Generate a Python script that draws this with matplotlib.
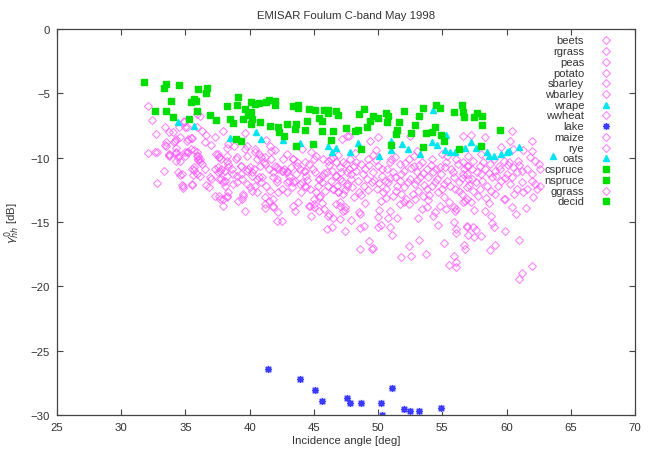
import numpy as np
import matplotlib
matplotlib.use("Agg")
import matplotlib.pyplot as plt

plt.rcParams['font.family'] = ['Liberation Sans', 'DejaVu Sans']

# -------------------------
# DATA
# -------------------------
# all the crop classes share the same magenta open diamond
crop_pts = [
    (32.1, -5.96), (32.4, -7.05), (32.7, -8.16), (33.4, -7.64), (33.7, -8.03), (34.0, -8.03),
    (33.5, -8.8), (33.5, -9.07), (32.1, -9.63), (32.6, -9.53), (32.8, -9.53), (33.7, -9.71),
    (32.8, -12.0), (33.3, -11.03), (34.3, -9.53), (34.5, -9.84), (34.2, -8.68), (34.6, -8.42),
    (34.5, -7.64), (34.9, -7.25), (35.0, -7.64), (35.1, -8.68), (35.4, -8.47), (35.0, -9.58),
    (35.0, -9.84), (35.2, -9.58), (35.9, -9.58), (36.0, -9.84), (34.4, -11.14), (34.7, -11.27),
    (34.8, -12.17), (34.8, -12.38), (35.6, -11.32), (35.5, -12.04), (35.7, -10.96), (36.0, -10.15),
    (35.9, -6.6), (36.1, -6.74), (33.4, -9.0), (34.1, -8.76), (34.3, -8.55), (34.3, -9.27),
    (33.7, -9.84), (34.3, -10.23), (34.6, -11.35), (34.7, -12.12), (34.9, -7.17), (35.1, -7.64),
    (35.2, -8.55), (35.5, -8.47), (35.1, -9.58), (35.4, -9.32), (35.7, -9.38), (35.9, -9.84),
    (35.5, -10.88), (35.7, -10.75), (36.1, -10.1), (36.3, -10.49), (35.5, -12.12), (35.9, -11.27),
    (36.1, -11.4), (36.5, -10.88), (36.6, -12.12), (36.8, -12.3), (35.9, -7.64), (36.3, -7.9),
    (36.5, -8.8), (37.3, -8.42), (37.4, -9.71), (37.6, -9.92), (37.5, -11.14), (37.7, -11.01),
    (37.8, -10.1), (38.2, -9.27), (38.3, -8.94), (38.2, -9.84), (38.3, -10.75), (38.6, -10.88),
    (37.8, -11.66), (38.1, -11.79), (37.6, -12.95), (37.9, -13.2), (38.2, -12.95), (38.7, -12.04),
    (39.0, -11.4), (39.3, -11.27), (38.9, -10.1), (39.0, -9.97), (39.3, -10.62), (39.6, -9.32),
    (39.8, -9.12), (39.8, -9.84), (39.9, -10.88), (40.2, -11.14), (39.8, -12.04), (40.0, -12.3),
    (39.5, -12.82), (40.4, -9.58), (40.6, -10.1), (40.8, -10.62), (41.1, -10.36), (40.7, -11.53),
    (41.0, -11.53), (40.6, -12.69), (41.2, -9.97), (41.6, -9.07), (41.7, -9.45), (42.0, -10.62),
    (42.2, -10.88), (41.8, -11.53), (42.1, -11.66), (41.2, -13.08), (41.5, -13.34), (41.8, -13.73),
    (42.1, -14.9), (42.5, -14.9), (42.6, -11.01), (42.9, -11.14), (43.1, -11.79), (43.4, -11.91),
    (42.5, -12.43), (42.9, -12.69), (43.4, -10.1), (43.7, -10.36), (43.9, -10.88), (44.3, -11.01),
    (43.9, -12.04), (44.4, -12.3), (43.8, -13.47), (44.6, -13.73), (45.0, -13.86), (45.2, -12.69),
    (45.5, -12.95), (45.4, -11.66), (45.6, -11.4), (45.0, -10.1), (45.2, -9.84), (46.1, -14.5),
    (46.5, -14.71), (46.0, -15.54), (46.4, -15.41), (47.0, -13.73), (47.4, -13.86), (46.5, -12.43),
    (46.9, -12.69), (46.7, -11.4), (47.0, -11.66), (46.3, -10.1), (46.7, -10.36), (47.7, -10.88),
    (47.6, -12.17), (47.7, -8.29), (37.9, -13.73), (39.1, -13.34), (39.4, -13.2), (39.5, -12.95),
    (39.6, -14.11), (41.2, -13.6), (41.2, -13.93), (41.8, -13.86), (42.2, -14.2), (43.4, -13.73),
    (43.5, -14.11), (48.6, -17.1), (49.5, -17.1), (49.6, -17.04), (48.6, -15.49), (48.9, -15.33),
    (50.0, -15.41), (50.2, -15.23), (50.9, -15.41), (50.0, -14.58), (50.8, -14.71), (51.5, -14.71),
    (51.8, -17.74), (52.4, -16.84), (52.6, -17.66), (53.2, -16.37), (53.7, -17.48), (55.9, -17.61),
    (55.5, -18.34), (56.1, -18.08), (56.1, -18.52), (56.7, -16.78), (56.8, -17.1), (56.9, -15.41),
    (56.1, -15.54), (56.1, -15.87), (55.9, -15.02), (55.9, -13.86), (56.0, -14.11), (54.3, -14.5),
    (54.4, -14.24), (53.4, -13.99), (53.8, -13.86), (51.7, -13.6), (52.0, -13.47), (52.9, -13.2),
    (50.9, -14.11), (50.1, -14.04), (48.5, -14.2), (48.6, -14.37), (47.9, -14.84), (47.0, -14.76),
    (47.3, -14.11), (47.4, -14.04), (45.4, -14.11), (45.8, -13.99), (46.2, -14.37), (44.7, -13.73),
    (45.0, -13.6), (46.7, -13.6), (47.0, -13.47), (57.0, -16.0), (57.5, -16.14), (58.0, -16.06),
    (59.1, -16.78), (59.9, -15.72), (61.0, -16.37), (61.2, -18.96), (61.0, -19.43), (62.0, -18.44),
    (60.4, -7.95), (62.0, -8.68), (60.3, -8.68), (60.5, -9.32), (61.3, -9.38), (62.0, -9.45),
    (61.8, -9.97), (62.2, -10.23), (62.5, -10.49), (62.6, -10.88), (61.2, -11.01), (61.6, -10.88),
    (62.0, -11.27), (62.0, -11.79), (62.2, -12.04), (62.4, -12.43), (62.6, -12.17), (62.1, -13.08),
    (61.3, -12.69), (61.6, -12.43), (60.4, -13.86), (59.9, -13.2), (58.8, -14.55), (58.3, -14.11),
    (59.0, -15.41), (56.9, -15.33), (57.4, -15.41), (57.6, -15.62), (44.8, -9.58), (44.3, -10.36),
    (44.6, -10.49), (44.2, -11.01), (44.4, -11.4), (44.1, -11.91), (44.3, -12.17), (44.7, -12.43),
    (45.0, -13.2), (45.4, -13.08), (45.1, -11.14), (45.4, -11.66), (45.6, -11.91), (45.7, -10.1),
    (46.1, -10.23), (46.5, -9.97), (46.0, -11.14), (46.4, -11.01), (46.7, -11.4), (46.1, -12.17),
    (46.5, -12.43), (46.9, -12.69), (47.0, -10.75), (47.3, -10.36), (47.6, -11.14), (47.8, -10.1),
    (48.1, -10.62), (48.3, -11.01), (47.2, -11.79), (47.6, -12.04), (47.9, -11.66), (47.3, -12.82),
    (48.1, -13.08), (48.5, -12.69), (48.7, -10.49), (49.0, -10.88), (49.2, -10.1), (49.1, -11.66),
    (49.5, -11.91), (48.9, -12.17), (49.6, -11.14), (50.0, -10.62), (50.3, -11.4), (49.9, -12.43),
    (50.4, -12.69), (50.2, -13.34), (50.7, -10.88), (50.9, -10.36), (51.2, -11.14), (51.3, -9.97),
    (51.7, -10.49), (52.0, -11.01), (50.8, -11.91), (51.5, -12.17), (51.7, -11.79), (51.2, -12.95),
    (51.8, -12.82), (52.2, -13.2), (52.4, -10.1), (52.8, -10.62), (53.0, -11.14), (52.5, -11.66),
    (52.9, -12.04), (53.3, -11.53), (53.1, -12.56), (53.5, -12.95), (53.8, -12.43), (53.4, -10.36),
    (53.8, -10.88), (54.2, -10.1), (54.3, -11.14), (54.6, -11.66), (54.8, -10.75), (54.2, -12.17),
    (54.7, -12.69), (55.1, -12.04), (55.1, -13.08), (55.5, -13.47), (54.8, -13.73), (55.3, -10.36),
    (55.7, -10.88), (56.1, -10.1), (55.9, -11.53), (56.3, -11.91), (56.6, -11.27), (56.0, -12.43),
    (56.5, -12.82), (56.9, -12.3), (56.9, -10.62), (57.0, -11.66), (56.8, -13.34), (56.1, -13.99),
    (56.6, -10.36), (57.0, -10.62), (57.4, -10.23), (56.9, -11.27), (57.3, -11.66), (57.7, -11.14),
    (57.9, -10.62), (58.3, -10.88), (58.7, -10.49), (58.1, -11.79), (58.5, -12.17), (58.9, -11.53),
    (59.0, -10.1), (59.4, -10.62), (59.8, -10.23), (59.2, -11.4), (59.6, -11.79), (60.0, -11.27),
    (60.2, -10.36), (60.5, -10.75), (60.9, -10.23), (60.3, -12.04), (60.8, -12.43), (61.2, -11.91),
    (57.4, -12.56), (57.8, -12.95), (56.9, -13.2), (59.1, -12.82), (59.8, -13.2), (56.6, -13.47),
    (57.2, -13.47), (33.7, -9.79), (34.3, -9.63), (34.4, -9.97), (34.6, -10.23), (36.0, -10.1),
    (36.1, -10.31), (36.9, -11.53), (37.0, -11.66), (37.3, -10.88), (37.5, -10.75), (37.8, -10.88),
    (38.1, -11.01), (37.5, -9.71), (37.6, -9.97), (38.2, -10.23), (38.3, -10.49), (37.6, -11.66),
    (37.9, -11.91), (38.1, -12.17), (38.2, -11.4), (37.3, -12.95), (37.7, -13.2), (38.3, -12.69),
    (38.2, -13.08), (38.7, -11.27), (39.0, -11.91), (39.3, -10.62), (39.4, -11.66), (39.8, -11.01),
    (40.0, -10.75), (40.2, -11.4), (40.3, -10.88), (40.2, -12.56), (40.4, -12.17), (40.6, -11.66),
    (40.9, -11.91), (40.4, -9.32), (40.7, -9.71), (40.9, -9.97), (41.2, -10.49), (41.5, -10.88),
    (41.7, -10.1), (41.8, -11.14), (42.1, -10.75), (41.3, -12.17), (41.6, -12.56), (42.1, -11.91),
    (42.2, -12.69), (41.8, -13.2), (42.5, -11.01), (42.7, -10.88), (42.9, -11.14), (43.1, -11.4),
    (42.9, -11.91), (43.3, -12.3), (43.5, -11.79), (42.6, -10.1), (42.9, -9.71), (43.4, -10.1),
    (43.7, -10.62), (47.2, -8.55), (47.6, -8.34), (49.4, -8.68), (50.0, -8.42), (52.5, -8.29),
    (56.6, -8.29), (57.2, -8.24), (58.3, -8.42), (48.2, -9.6), (49.8, -9.4), (53.0, -9.5),
    (55.0, -9.7), (58.0, -9.7), (59.6, -9.2),
    # dense core, second pass
    (43.2, -10.7), (43.6, -11.3), (44.0, -12.7), (44.5, -11.7), (44.9, -10.9), (45.3, -12.2),
    (45.8, -11.2), (45.9, -12.6), (46.2, -10.6), (46.3, -11.8), (46.8, -12.2), (47.1, -11.1),
    (47.4, -12.5), (47.5, -10.5), (47.9, -11.3), (48.0, -12.3), (48.3, -10.3), (48.4, -11.8),
    (48.7, -12.9), (48.8, -11.3), (49.2, -12.5), (49.3, -10.6), (49.7, -11.7), (49.8, -10.2),
    (50.1, -12.0), (50.3, -10.9), (50.5, -11.8), (50.6, -12.4), (50.9, -11.6), (51.0, -10.1),
    (51.3, -11.5), (51.4, -12.6), (51.8, -11.3), (52.0, -12.3), (52.1, -10.4), (52.3, -11.9),
    (52.6, -10.8), (52.7, -12.8), (53.0, -11.7), (53.2, -10.6), (53.5, -11.2), (53.6, -12.1),
    (53.9, -11.5), (54.0, -12.9), (54.1, -10.6), (54.4, -11.9), (54.5, -10.9), (54.9, -11.3),
    (55.0, -12.4), (55.2, -10.7), (55.4, -11.8), (55.6, -12.2), (55.8, -11.1), (56.2, -10.5),
    (56.3, -12.6), (56.5, -11.6), (56.7, -10.9), (57.1, -12.1), (57.3, -10.9), (57.6, -11.9),
    (57.9, -12.4), (58.0, -11.3), (58.2, -10.3), (58.6, -11.2), (58.8, -12.6), (59.1, -11.0),
    (59.3, -12.2), (59.5, -10.9), (59.9, -11.6), (60.1, -10.6), (60.4, -11.5), (60.6, -12.8),
    (60.8, -11.1), (61.0, -10.6), (49.0, -13.5), (50.6, -13.1), (52.4, -13.6), (53.9, -13.3),
    (55.3, -14.0), (57.5, -14.1), (58.6, -13.5), (49.6, -9.8), (52.8, -9.9), (55.4, -9.9),
    (57.0, -9.9), (46.9, -9.8), (44.1, -9.3), (42.0, -9.4), (38.8, -9.1), (37.0, -9.0),
    (36.6, -8.2), (37.9, -7.9), (39.6, -8.1), (41.3, -8.6), (45.6, -13.5), (44.8, -14.5),
    (53.1, -14.7), (54.7, -15.2), (58.9, -15.1), (60.7, -14.4), (61.5, -13.9), (58.4, -13.1),
    (51.1, -16.0), (49.3, -16.5), (47.4, -15.7), (55.1, -16.6), (58.7, -17.2),
]

# wrape + oats: cyan triangles
rape_pts = [
    (34.4, -7.25), (35.7, -7.54), (38.5, -8.45), (40.5, -8.03), (40.9, -8.57), (42.6, -8.62),
    (43.9, -8.88), (46.1, -9.09), (46.7, -9.25), (46.4, -9.56), (47.8, -9.58), (50.1, -9.84),
    (51.0, -8.68), (51.0, -9.38), (51.9, -8.94), (52.3, -9.32), (53.3, -9.71), (54.2, -8.81),
    (54.6, -9.01), (54.3, -6.27), (55.3, -8.24), (55.2, -9.38), (55.6, -9.53), (56.0, -9.58),
    (56.8, -9.27), (57.2, -8.81), (57.6, -9.27), (58.5, -9.53), (58.6, -9.84), (59.0, -9.89),
    (59.6, -9.71), (60.0, -9.58), (60.2, -9.5), (61.0, -9.14), (63.6, -9.9), (48.4, -8.86),
]

# cspruce + nspruce + decid: green squares
forest_pts = [
    (31.8, -4.09), (33.5, -4.27), (33.3, -4.61), (34.5, -4.33), (36.0, -4.64), (36.7, -4.56),
    (36.6, -5.0), (33.9, -5.57), (35.4, -5.67), (35.7, -5.44), (35.8, -5.62), (32.6, -6.4),
    (33.5, -6.4), (35.9, -6.35), (34.0, -6.81), (35.3, -6.97), (36.9, -6.68), (37.4, -7.1),
    (38.2, -6.0), (39.1, -5.28), (39.0, -5.9), (39.6, -6.24), (40.1, -5.65), (40.4, -5.83),
    (40.7, -5.75), (41.3, -5.7), (41.5, -5.54), (42.0, -5.57), (42.0, -5.88), (39.9, -6.68),
    (40.1, -6.47), (39.5, -7.02), (40.2, -6.99), (40.1, -7.38), (38.5, -6.99), (38.7, -7.3),
    (40.8, -7.25), (41.6, -7.56), (42.2, -7.64), (42.3, -7.98), (42.7, -8.34), (42.9, -7.41),
    (43.4, -5.98), (43.8, -5.9), (43.8, -6.14), (43.6, -7.36), (43.5, -7.77), (44.3, -7.85),
    (44.5, -7.15), (44.6, -6.22), (45.1, -6.27), (45.8, -6.27), (46.1, -6.29), (46.1, -6.55),
    (46.7, -6.37), (46.9, -6.66), (45.4, -6.94), (45.6, -7.15), (45.6, -7.9), (46.5, -7.93),
    (47.5, -7.69), (46.3, -8.6), (44.9, -8.96), (43.6, -9.12), (38.9, -8.55), (39.3, -8.68),
    (48.5, -6.6), (48.9, -6.22), (49.6, -6.73), (49.4, -7.12), (49.1, -7.64), (50.0, -6.94),
    (50.6, -6.53), (50.8, -6.79), (50.7, -7.2), (48.2, -7.95), (48.4, -7.82), (51.6, -7.2),
    (52.0, -6.4), (51.5, -7.85), (51.4, -8.16), (52.9, -7.46), (53.2, -6.73), (53.5, -6.16),
    (52.6, -8.08), (53.7, -8.08), (54.2, -7.98), (54.4, -7.59), (54.5, -5.88), (54.8, -6.16),
    (54.9, -8.26), (55.1, -8.68), (51.0, -9.01), (48.7, -9.32), (53.5, -9.19), (55.9, -6.47),
    (56.5, -5.88), (56.6, -6.47), (56.7, -6.81), (57.5, -6.81), (57.7, -6.55), (58.1, -6.73),
    (58.1, -7.43), (59.5, -7.85), (56.3, -9.32), (58.0, -9.12),
]

# lake: blue asterisks
lake_angle = [41.4, 43.9, 45.1, 45.6, 47.6, 47.8, 48.7, 50.2, 50.3, 51.1, 52.0, 52.5, 53.2, 54.9]
lake_sigma = [-26.4, -27.2, -28.05, -28.9, -28.65, -29.06, -29.1, -29.1, -30.0, -27.9,
              -29.55, -29.7, -29.7, -29.45]

legend_names = ['beets', 'rgrass', 'peas', 'potato', 'sbarley', 'wbarley', 'wrape', 'wwheat',
                'lake', 'maize', 'rye', 'oats', 'cspruce', 'nspruce', 'ggrass', 'decid']
legend_kind = ['crop', 'crop', 'crop', 'crop', 'crop', 'crop', 'rape', 'crop',
               'lake', 'crop', 'crop', 'rape', 'forest', 'forest', 'crop', 'forest']

# -------------------------
# STYLES
# -------------------------
styles = {
    'crop': dict(marker='D', ms=3.7, mfc='none', mec='#ff55ff', mew=0.8, ls='none', alpha=0.7),
    'rape': dict(marker='^', ms=4.0, color='#00e5ee', mec='#00e5ee', ls='none'),
    'forest': dict(marker='s', ms=4.4, color='#00dd00', mec='#00dd00', ls='none'),
    'lake': dict(marker=(8, 2, 0), ms=5, color='#3b3bff', mec='#3b3bff', mew=0.9, ls='none'),
}

crop = np.array(crop_pts)
rape = np.array(rape_pts)
forest = np.array(forest_pts)

fig = plt.figure(figsize=(6.56, 4.52), dpi=100)
ax = fig.add_axes([0.0869, 0.0796, 0.881, 0.854])

ax.plot(crop[:, 0], crop[:, 1], **styles['crop'])
ax.plot(rape[:, 0], rape[:, 1], **styles['rape'])
ax.plot(lake_angle, lake_sigma, marker='s', ms=5, mfc='#d8d8ff', mec='#d8d8ff', ls='none')
ax.plot(lake_angle, lake_sigma, **styles['lake'])
ax.plot(forest[:, 0], forest[:, 1], **styles['forest'])

ax.set_xlim(25, 70)
ax.set_ylim(-30, 0)
ax.set_xticks(np.arange(25, 71, 5))
ax.set_yticks(np.arange(-30, 1, 5))

txt = '#333333'
for s in ax.spines.values():
    s.set_color('#444444')
    s.set_linewidth(0.9)
ax.tick_params(direction='in', length=4, width=0.8, color='#444444',
               top=True, right=True, labelsize=8.2, labelcolor=txt, pad=5)

ax.set_title('EMISAR Foulum C-band May 1998', fontsize=8.2, color=txt, pad=8)
ax.set_xlabel('Incidence angle [deg]', fontsize=8.2, color=txt, labelpad=2)
ax.set_ylabel(r'$\gamma^0_{hh}$ [dB]', fontsize=8.2, color=txt, labelpad=6)

# gnuplot-like key: label right aligned, sample to its right
y0 = 0.9707
dy = 0.0278
for i, (name, kind) in enumerate(zip(legend_names, legend_kind)):
    yy = y0 - i * dy
    ax.text(0.912, yy, name, transform=ax.transAxes, ha='right', va='center',
            fontsize=8.0, color=txt)
    st = dict(styles[kind])
    if kind == 'lake':
        ax.plot([0.95], [yy], transform=ax.transAxes, marker='s', ms=5, mfc='#d8d8ff',
                mec='#d8d8ff', ls='none', clip_on=False)
        st['ms'] = 4.5
    ax.plot([0.95], [yy], transform=ax.transAxes, clip_on=False, **st)

fig.savefig('out.png', dpi=100)
